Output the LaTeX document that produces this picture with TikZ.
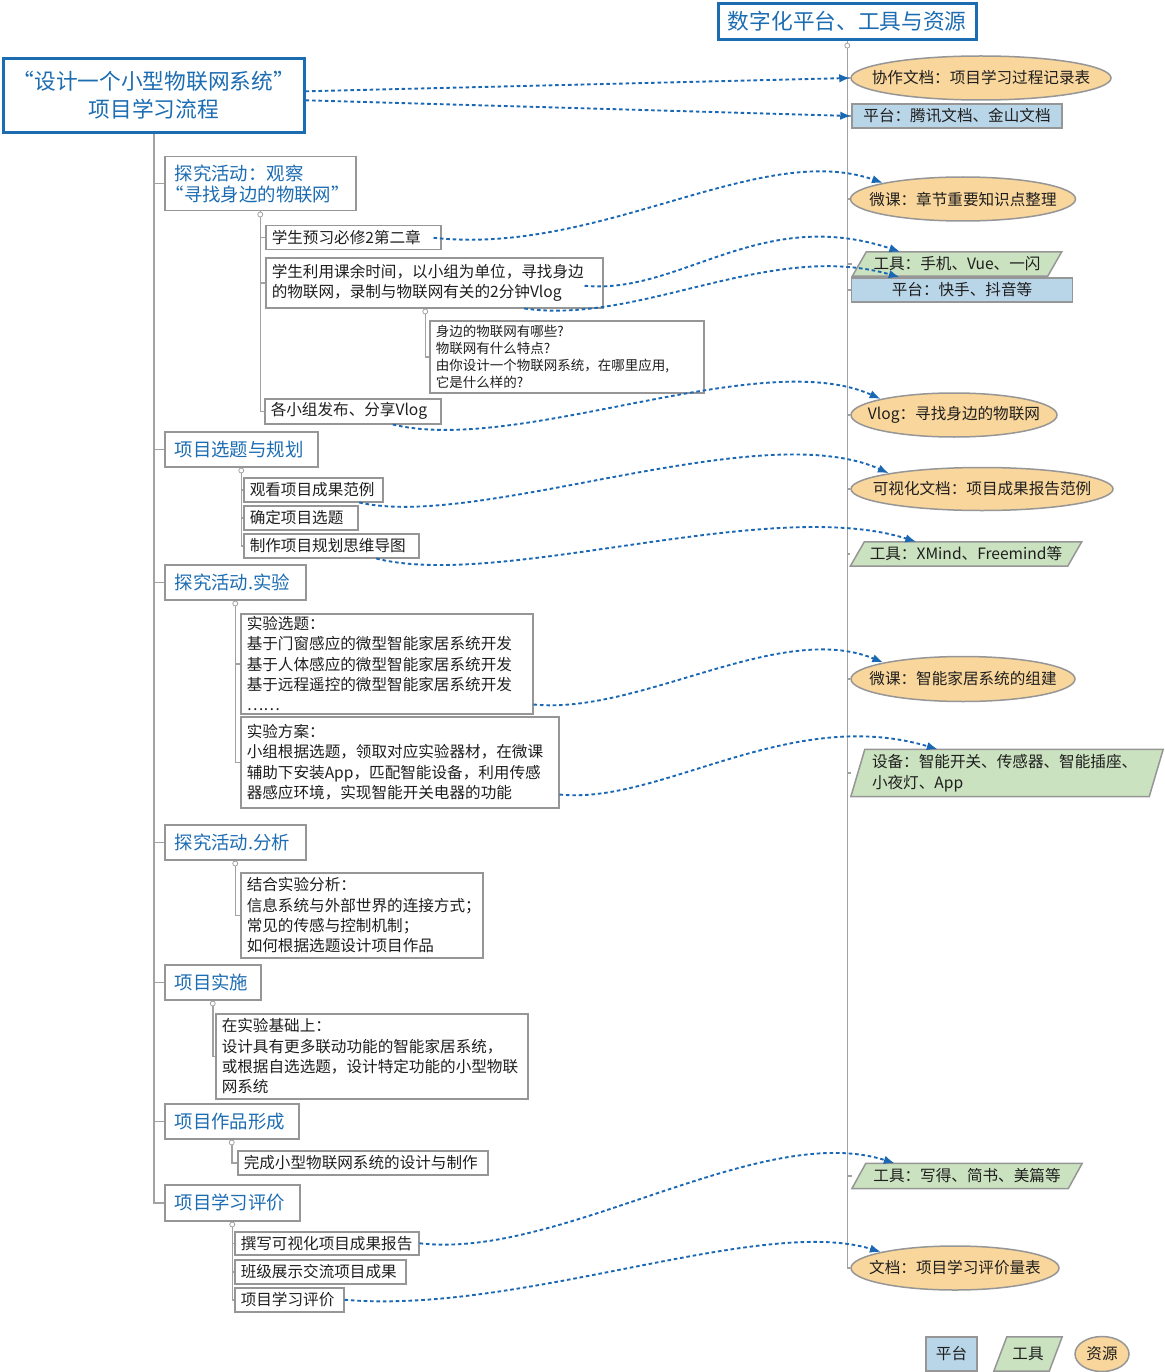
\documentclass[tikz,border=0pt]{standalone}
\usepackage{fontspec}
\setmainfont{Noto Sans CJK SC}
\usepackage{tikz}
\usetikzlibrary{arrows.meta}
\usetikzlibrary{shapes.geometric}
\usetikzlibrary{backgrounds}
\definecolor{mapblue}{RGB}{28,108,178}
\definecolor{dashblue}{RGB}{26,104,180}
\definecolor{linegray}{RGB}{162,162,162}
\definecolor{boxgray}{RGB}{150,150,150}
\definecolor{resfill}{RGB}{249,214,155}
\definecolor{platfill}{RGB}{185,213,232}
\definecolor{toolfill}{RGB}{202,226,191}
\definecolor{ink}{RGB}{30,30,30}
\tikzset{link/.style = {dashblue, line width=1.9pt, dash pattern=on 3.6pt off 2.8pt,
                        -{Latex[length=11pt, width=8.5pt]}}}
\tikzset{branch/.style = {linegray, line width=1.5pt}}
\tikzset{knob/.style = {linegray, fill=white, line width=0.8pt}}
\tikzset{head/.style = {draw=mapblue, line width=2.6pt, text=mapblue, align=center, anchor=north west,
                        font=\fontsize{21.7}{28}\selectfont}}
\tikzset{stage/.style = {draw=boxgray, line width=1.5pt, text=mapblue, anchor=north west, align=left,
                         inner xsep=10pt, inner ysep=2pt, font=\fontsize{18.4}{21}\selectfont}}
\tikzset{leaf/.style = {draw=boxgray, line width=1.5pt, text=ink, anchor=north west, align=left,
                        inner xsep=6pt, inner ysep=2pt, font=\fontsize{15.6}{20.3}\selectfont}}
\tikzset{res/.style = {ellipse, draw=boxgray, line width=1.5pt, fill=resfill, text=ink,
                       inner xsep=-20pt, inner ysep=0pt, font=\fontsize{15.6}{20}\selectfont}}
\tikzset{plat/.style = {draw=boxgray, line width=1.5pt, fill=platfill, text=ink, inner sep=0pt,
                        font=\fontsize{15.6}{20}\selectfont}}
\tikzset{tool/.style = {text=ink, inner sep=0pt, font=\fontsize{15.6}{20.5}\selectfont}}
\tikzset{toolshape/.style = {draw=boxgray, line width=1.5pt, fill=toolfill}}

\begin{document}
\begin{tikzpicture}[x=1pt, y=-1pt]
      \useasboundingbox (0,0) rectangle (1164,1372);

      \node (t0) at (2,57) [head, minimum width=301pt, minimum height=74pt] {“设计一个小型物联网系统”\\项目学习流程};
      \node (r0) at (717,2) [head, minimum width=258pt, minimum height=36pt] {数字化平台、工具与资源};

      \node (a1) at (164,156) [stage, text width=171pt, minimum height=54pt] {探究活动：观察\\\hspace*{-9pt}“寻找身边的物联网”};
      \node (a2) at (164,431) [stage, text width=133pt, minimum height=35pt] {项目选题与规划};
      \node (a3) at (164,564) [stage, text width=121pt, minimum height=35pt] {探究活动.实验};
      \node (a4) at (164,824) [stage, text width=121pt, minimum height=35pt] {探究活动.分析};
      \node (a5) at (164,964) [stage, text width=76pt, minimum height=35pt] {项目实施};
      \node (a6) at (164,1103) [stage, text width=114pt, minimum height=35pt] {项目作品形成};
      \node (a7) at (164,1184) [stage, text width=115pt, minimum height=36pt] {项目学习评价};

      \node (b1) at (265,225) [leaf, text width=163pt, minimum height=24pt] {学生预习必修2第二章};
      \node (b2) at (265,257) [leaf, text width=325pt, minimum height=50pt] {学生利用课余时间，以小组为单位，寻找身边\\的物联网，录制与物联网有关的2分钟Vlog};
      \node (b3) at (429,320) [leaf, text width=262pt, minimum height=72pt, font=\fontsize{13.5}{17}\selectfont]
            {身边的物联网有哪些?\\物联网有什么特点?\\由你设计一个物联网系统，在哪里应用,\\它是什么样的?};
      \node (b4) at (264,398) [leaf, text width=164pt, minimum height=25pt] {各小组发布、分享Vlog};
      \node (b5) at (243,477) [leaf, text width=127pt, minimum height=24pt] {观看项目成果范例};
      \node (b6) at (243,505) [leaf, text width=102pt, minimum height=24pt] {确定项目选题};
      \node (b7) at (243,533) [leaf, text width=163pt, minimum height=24pt] {制作项目规划思维导图};
      \node (b8) at (240,613) [leaf, text width=280pt, minimum height=100pt]
            {实验选题：\\基于门窗感应的微型智能家居系统开发\\基于人体感应的微型智能家居系统开发\\基于远程遥控的微型智能家居系统开发\\……};
      \node (b9) at (240,716) [leaf, text width=306pt, minimum height=91pt]
            {实验方案：\\小组根据选题，领取对应实验器材，在微课\\辅助下安装App，匹配智能设备，利用传感\\器感应环境，实现智能开关电器的功能};
      \node (b10) at (240,872) [leaf, text width=230pt, minimum height=85pt]
            {结合实验分析：\\信息系统与外部世界的连接方式；\\常见的传感与控制机制；\\如何根据选题设计项目作品};
      \node (b11) at (215,1013) [leaf, text width=300pt, minimum height=85pt]
            {在实验基础上：\\设计具有更多联动功能的智能家居系统，\\或根据自选选题，设计特定功能的小型物联\\网系统};
      \node (b12) at (237,1150) [leaf, text width=238pt, minimum height=24pt] {完成小型物联网系统的设计与制作};
      \node (b13) at (234,1231) [leaf, text width=172pt, minimum height=23pt] {撰写可视化项目成果报告};
      \node (b14) at (234,1259) [leaf, text width=159pt, minimum height=24pt] {班级展示交流项目成果};
      \node (b15) at (234,1287) [leaf, text width=97pt, minimum height=24pt] {项目学习评价};

      \node (c1) at (981,78) [res, minimum width=260pt, minimum height=44pt] {协作文档：项目学习过程记录表};
      \node (c2) at (957,116) [plat, minimum width=210pt, minimum height=24pt] {平台：腾讯文档、金山文档};
      \node (c3) at (963,199) [res, minimum width=225pt, minimum height=44pt] {微课：章节重要知识点整理};
      \node (c4) at (957,264) [tool, minimum width=209pt, minimum height=24pt] {工具：手机、Vue、一闪};
      \node (c5) at (962,290) [plat, minimum width=221pt, minimum height=24pt] {平台：快手、抖音等};
      \node (c6) at (954,415) [res, minimum width=206pt, minimum height=44pt] {Vlog：寻找身边的物联网};
      \node (c7) at (982,489) [res, minimum width=262pt, minimum height=43pt] {可视化文档：项目成果报告范例};
      \node (c8) at (966,554) [tool, minimum width=231pt, minimum height=24pt] {工具：XMind、Freemind等};
      \node (c9) at (963,679) [res, minimum width=224pt, minimum height=45pt] {微课：智能家居系统的组建};
      \node (c10) at (1007,773) [tool, text width=270pt, align=left, minimum width=312pt, minimum height=47pt]
            {设备：智能开关、传感器、智能插座、\\小夜灯、App};
      \node (c11) at (967,1176) [tool, minimum width=230pt, minimum height=25pt] {工具：写得、简书、美篇等};
      \node (c12) at (955,1268) [res, minimum width=208pt, minimum height=44pt] {文档：项目学习评价量表};

      \node (g1) at (951.5,1354) [plat, minimum width=51pt, minimum height=34pt] {平台};
      \node (g2) at (1028,1354) [tool, minimum width=68pt, minimum height=34pt] {工具};
      \node (g3) at (1102,1354) [res, minimum width=54pt, minimum height=35pt] {资源};

      \draw [link] ([yshift=4pt]t0.east) -- (c1.west);
      \draw [link] ([yshift=-5pt]t0.east) -- (c2.west);
      \draw [link] ([xshift=-8pt]b1.east) .. controls (600,256) and (760,140) .. (c3.north west);
      \draw [link] ([xshift=-19pt, yshift=-3pt]b2.east) .. controls (680,295) and (760,205) .. ([xshift=48pt]c4.north west);
      \draw [link] ([xshift=90pt]b2.south) .. controls (640,325) and (770,240) .. ([xshift=49pt]c5.north west);
      \draw [link] ([xshift=40pt]b4.south) .. controls (520,455) and (760,345) .. (c6.north west);
      \draw [link] ([xshift=46pt]b5.south) .. controls (480,530) and (760,415) .. (c7.north west);
      \draw [link] ([xshift=45pt]b7.south) .. controls (500,590) and (770,495) .. ([xshift=66pt]c8.north west);
      \draw [link] ([yshift=10pt]b8.south east) .. controls (640,715) and (780,620) .. (c9.north west);
      \draw [link] ([yshift=14pt]b9.south east) .. controls (660,805) and (790,705) .. ([xshift=87pt]c10.north west);
      \draw [link] (b13.east) .. controls (560,1260) and (760,1120) .. ([xshift=43pt]c11.north west);
      \draw [link] (b15.east) .. controls (520,1315) and (760,1215) .. (c12.north west);

      \begin{scope}[on background layer]
        \foreach \n in {a1,a2,a3,a4,a5,a6,a7}
          \draw [branch] (t0.south) |- (\n.west);
        \foreach \n in {c1,c2,c3,c4,c5,c6,c7,c8,c9,c10,c11,c12}
          \draw [branch] (r0.south) |- (\n.west);
        \foreach \n in {b1,b2,b4}
          \draw [branch] (a1.south) |- (\n.west);
        \draw [branch] ([xshift=-9pt]b2.south) |- (b3.west);
        \foreach \n in {b5,b6,b7}
          \draw [branch] (a2.south) |- (\n.west);
        \foreach \n in {b8,b9}
          \draw [branch] (a3.south) |- (\n.west);
        \draw [branch] (a4.south) |- (b10.west);
        \draw [branch] (a5.south) |- (b11.west);
        \draw [branch] (a6.south) |- (b12.west);
        \foreach \n in {b13,b14,b15}
          \draw [branch] (a7.south) |- (\n.west);
        \foreach \n in {a1,a2,a3,a4,a5,a6,a7}
          \filldraw [knob] ([yshift=-3pt]\n.south) circle (2.5pt);
        \filldraw [knob] ([xshift=-9pt, yshift=-3pt]b2.south) circle (2.5pt);
        \filldraw [knob] ([yshift=-5pt]r0.south) circle (2.5pt);
        \foreach \n in {c4,c8,c10,c11}
          \filldraw [toolshape] ([xshift=14pt]\n.north west) -- (\n.north east)
                -- ([xshift=-14pt]\n.south east) -- (\n.south west) -- cycle;
        \filldraw [toolshape] ([xshift=13pt]g2.north west) -- (g2.north east)
              -- ([xshift=-13pt]g2.south east) -- (g2.south west) -- cycle;
      \end{scope}
    \end{tikzpicture}
\end{document}
